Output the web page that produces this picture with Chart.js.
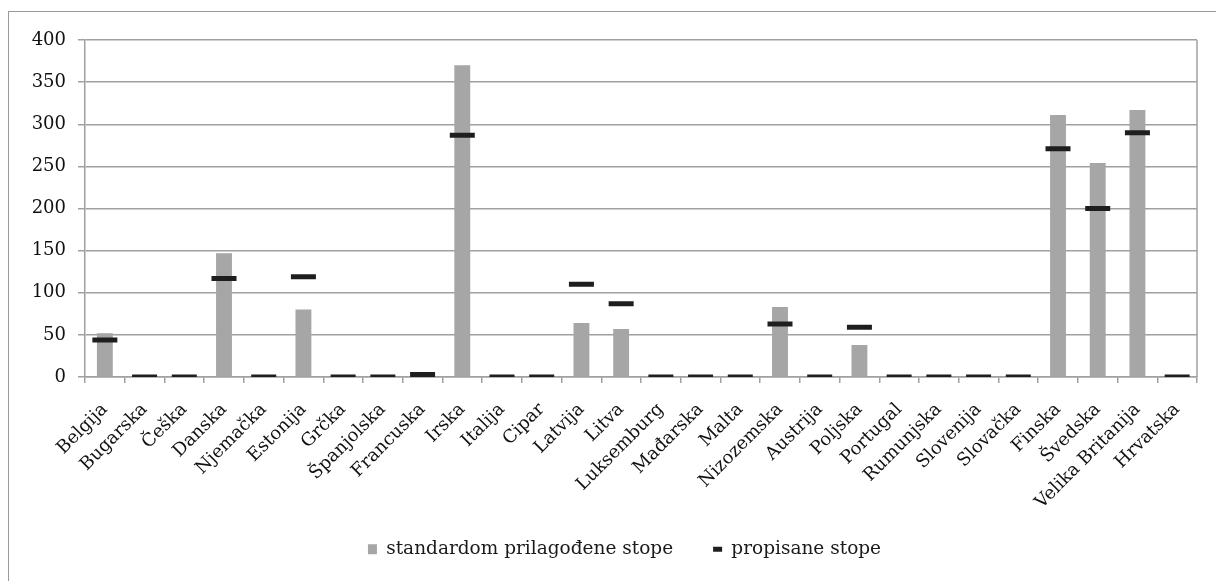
<!DOCTYPE html>
<html>
<head>
<meta charset="utf-8">
<script src="https://cdn.jsdelivr.net/npm/chart.js@4.4.0/dist/chart.umd.min.js"></script>
<style>
  html, body { margin: 0; padding: 0; background: #fff; }
  #wrap { position: relative; width: 1216px; height: 581px; overflow: hidden; }
  #frame { position: absolute; left: 8px; top: 11px; width: 1300px; height: 700px;
           border-left: 1.5px solid #9a9a9a; border-top: 1.5px solid #9a9a9a; }
  #c { position: absolute; left: 0; top: 0; }
</style>
</head>
<body>
<div id="wrap">
  <div id="frame"></div>
  <canvas id="c" width="1216" height="581"></canvas>
</div>
<script>
// zemlje EU
const countries = ["Belgija", "Bugarska", "Češka", "Danska", "Njemačka", "Estonija", "Grčka",
  "Španjolska", "Francuska", "Irska", "Italija", "Cipar", "Latvija", "Litva", "Luksemburg",
  "Mađarska", "Malta", "Nizozemska", "Austrija", "Poljska", "Portugal", "Rumunjska",
  "Slovenija", "Slovačka", "Finska", "Švedska", "Velika Britanija", "Hrvatska"];

const adjustedRates = [52, 0, 0, 147, 0, 80, 0, 0, 0, 370, 0, 0, 64, 57, 0,
  0, 0, 83, 0, 38, 0, 0, 0, 0, 311, 254, 317, 0];

const prescribedRates = [44, 0, 0, 117, 0, 119, 0, 0, 3, 287, 0, 0, 110, 87, 0,
  0, 0, 63, 0, 59, 0, 0, 0, 0, 271, 200, 290, 0];

const yTicks = [0, 50, 100, 150, 200, 250, 300, 350, 400];

const FONT = "'DejaVu Serif', serif";
const GRID = "#a0a0a0";

const plotBorder = {
  id: "plotBorder",
  afterLayout(chart) {
    // legenda: malo desno od sredine, nize dolje
    const lg = chart.legend;
    lg.left += 21;
    lg.right += 21;
    lg.top = 500;
    lg.bottom = 560;
  },
  afterDraw(chart) {
    const { ctx, chartArea } = chart;
    ctx.save();
    ctx.strokeStyle = GRID;
    ctx.lineWidth = 1.5;
    ctx.beginPath();
    ctx.moveTo(chartArea.right, chartArea.top);
    ctx.lineTo(chartArea.right, chartArea.bottom);
    ctx.stroke();
    ctx.restore();
  },
};

new Chart(document.getElementById("c"), {
  data: {
    labels: countries,
    datasets: [
      {
        type: "line",
        label: "propisane stope",
        data: prescribedRates,
        showLine: false,
        borderColor: "#1e1e1e",
        backgroundColor: "#1e1e1e",
        borderWidth: 3,
        pointStyle: "line",
        pointRadius: 12.5,
        pointHoverRadius: 12.5,
        pointBorderWidth: 5,
        pointBorderColor: "#1e1e1e",
        order: 0,
      },
      {
        type: "bar",
        label: "standardom prilagođene stope",
        data: adjustedRates,
        backgroundColor: "#a6a6a6",
        borderWidth: 0,
        barPercentage: 0.4,
        categoryPercentage: 1,
        pointStyle: "rect",
        order: 1,
      },
    ],
  },
  options: {
    responsive: false,
    animation: false,
    layout: { padding: { left: 10, right: 19, top: 40, bottom: 0 } },
    plugins: {
      tooltip: { enabled: false },
      legend: {
        position: "bottom",
        reverse: true,
        maxHeight: 60,
        labels: {
          usePointStyle: true,
          pointStyleWidth: 9,
          boxWidth: 10,
          boxHeight: 10,
          color: "#1a1a1a",
          font: { family: FONT, size: 18.5 },
          padding: 40,
        },
      },
    },
    scales: {
      x: {
        offset: true,
        grid: { offset: true, drawOnChartArea: false, color: GRID, lineWidth: 1.5, tickLength: 6 },
        border: { color: GRID, width: 1.5 },
        ticks: {
          color: "#111",
          font: { family: FONT, size: 18 },
          maxRotation: 45,
          minRotation: 45,
          autoSkip: false,
          padding: 16,
        },
        afterFit(scale) { scale.height = 144; },
      },
      y: {
        min: 0,
        max: 400,
        afterBuildTicks(scale) { scale.ticks = yTicks.map((v) => ({ value: v })); },
        grid: { color: GRID, lineWidth: 1.5, tickLength: 7 },
        border: { color: GRID, width: 1.5 },
        ticks: {
          color: "#111",
          font: { family: FONT, size: 18 },
          padding: 12,
        },
        afterFit(scale) { scale.width = 75; },
      },
    },
  },
  plugins: [plotBorder],
});
</script>
</body>
</html>
